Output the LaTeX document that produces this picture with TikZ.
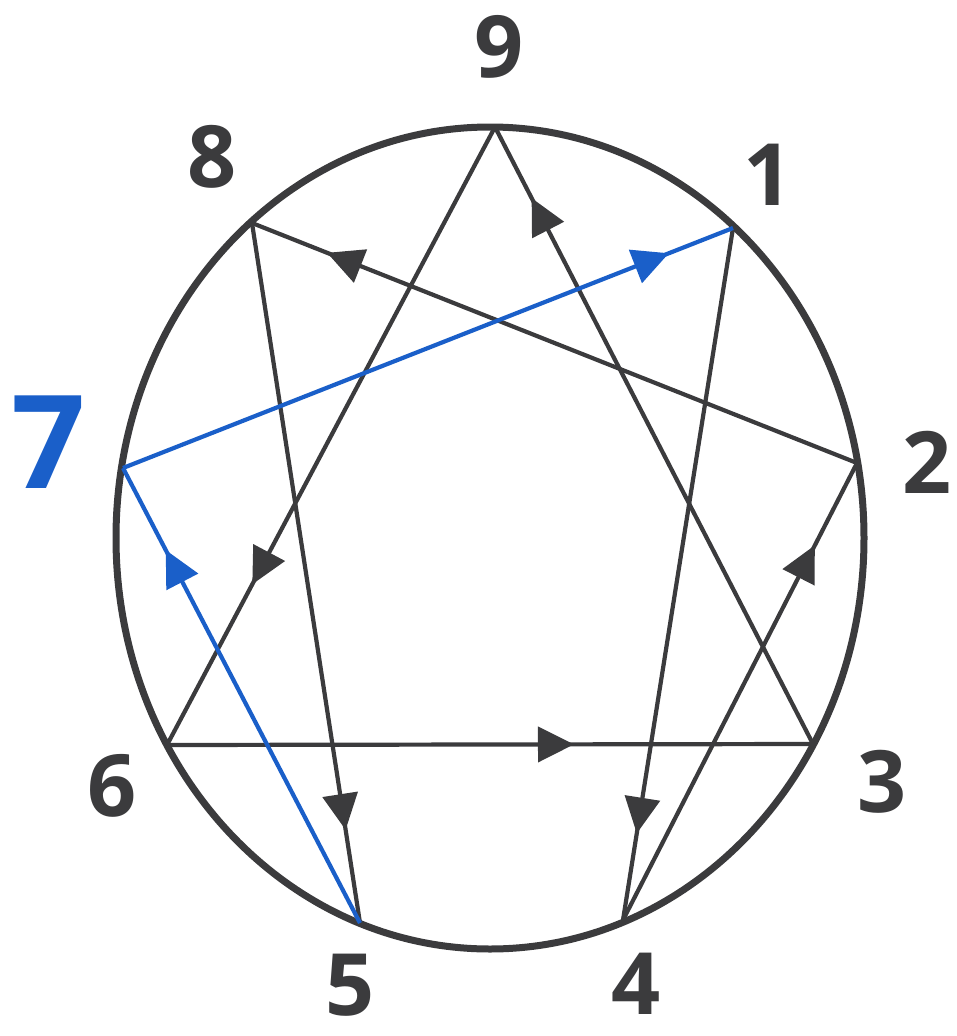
\documentclass[tikz,border=0pt]{standalone}
\usepackage{fontspec}
\setmainfont{Open Sans}
\usetikzlibrary{arrows.meta,decorations.markings,shapes.geometric}
\definecolor{ink}{HTML}{3B3B3D}
\definecolor{blu}{HTML}{1A5FC9}
\tikzset{
  conn/.style={line width=4.2pt, draw=ink},
  bconn/.style={line width=4.2pt, draw=blu},
  arr/.style={postaction={decorate,decoration={markings,
     mark=at position #1 with {\arrow{Triangle[length=36pt,width=35pt]}}}}},
  num/.style={font=\fontsize{86}{86}\selectfont\bfseries, text=ink, inner sep=0pt},
  bignum/.style={font=\fontsize{130}{130}\selectfont\bfseries, text=blu, inner sep=0pt},
}
\begin{document}
\begin{tikzpicture}[x=1pt,y=-1pt]
\useasboundingbox (0,0) rectangle (956,1036);
\node[ellipse, draw=ink, line width=7pt, minimum width=748pt, minimum height=822pt, inner sep=0pt] (ring) at (490,538) {};
\coordinate (p9) at (495,127);
\coordinate (p1) at (733,228);
\coordinate (p2) at (857,463);
\coordinate (p3) at (813,744);
\coordinate (p4) at (623,920);
\coordinate (p5) at (360,923);
\coordinate (p6) at (167,745);
\coordinate (p7) at (123,468);
\coordinate (p8) at (252,223);
% black connectors
\draw[conn, arr=0.74, ink] (p9) -- (p6);
\draw[conn, arr=0.63, ink] (p6) -- (p3);
\draw[conn, arr=0.885, ink] (p3) -- (p9);
\draw[conn, arr=0.875, ink] (p1) -- (p4);
\draw[conn, arr=0.82, ink] (p4) -- (p2);
\draw[conn, arr=0.876, ink] (p2) -- (p8);
\draw[conn, arr=0.867, ink] (p8) -- (p5);
% blue connectors
\draw[bconn, arr=0.82, blu] (p5) -- (p7);
\draw[bconn, arr=0.895, blu] (p7) -- (p1);
% labels
\node[num] (l9) at (499,47) {9};
\node[num] (l8) at (212,157) {8};
\node[num] (l1) at (768,175) {1};
\node[num] (l2) at (927,462) {2};
\node[bignum] (l7) at (49,442) {7};
\node[num] (l3) at (882,782) {3};
\node[num] (l6) at (112,786) {6};
\node[num] (l5) at (350,985) {5};
\node[num] (l4) at (636,984) {4};
\end{tikzpicture}
\end{document}
